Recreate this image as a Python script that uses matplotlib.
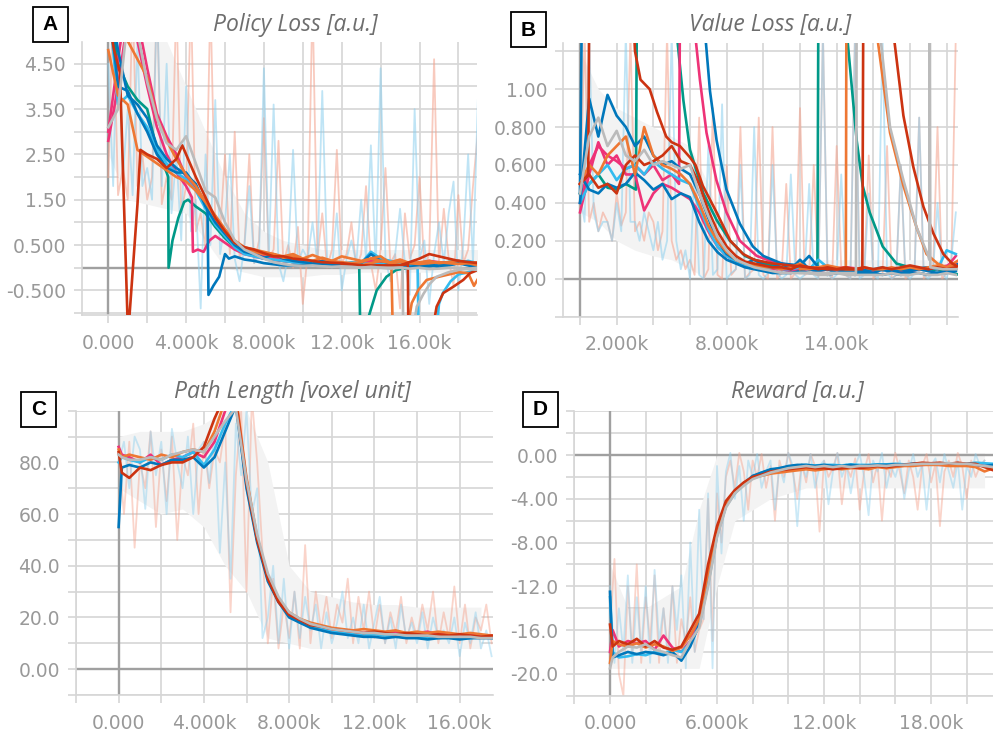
import numpy as np
import matplotlib
matplotlib.use("Agg")
import matplotlib.pyplot as plt
from matplotlib.patches import Rectangle

# ---------------- colours (TensorBoard run palette) ----------------
BLUE = "#0077bb"; CYAN = "#33bbee"; TEAL = "#009988"; ORANGE = "#ee7733"
RED = "#cc3311"; MAGENTA = "#ee3377"; GRAY = "#bbbbbb"
RAW_RED = "#f4a08a"; RAW_BLUE = "#8ccfee"

# =================== Panel A : Policy loss ===================
A_step = 500
A_gray = [3.1, 3.5, 5.5, 5.2, 4.1, 3.3, 2.75, 2.6, 2.9, 2.3, 1.7, 1.55, 1.0, 0.6, 0.4, 0.3, 0.2, 0.12, 0.08, 0.05,
          0.04, 0.05, 0.03, 0.02, 0.03, 0.02, 0.0, 0.02, 0.0, -0.02, 0.0, -0.02, 0.0, -0.03, -0.02, 0.0, 0.0, -0.03, -0.05]
A_magenta = [2.8, 4.0, 5.5, 5.5, 4.4, 3.4, 2.9, 2.5, 2.0, 1.75, 1.35, 1.0, 0.75, 0.5, 0.38, 0.3, 0.25, 0.22, 0.2, 0.15,
             0.18, 0.12, 0.1, 0.12, 0.1, 0.08, 0.1, 0.15, 0.12, 0.08, 0.1, 0.12, 0.1, 0.15, 0.12, 0.1, 0.15, 0.1, 0.12]
A_orange = [6, 5.5, 5.0, 4.6, 4.2, 3.3, 2.8, 2.4, 2.05, 1.8, 1.45, 1.1, 0.8, 0.55, 0.45, 0.35, 0.3, 0.3, 0.22, 0.25,
            0.2, 0.15, 0.22, 0.15, 0.12, 0.1, 0.12, 0.2, 0.25, 0.1, 0.12, 0.1, 0.08, 0.1, 0.12, 0.1, 0.08, 0.1, 0.05]
A_orange2 = [4.8, 3.8, 3.6, 2.6, 2.45, 2.3, 2.15, 2.0, 1.9, 1.7, 1.45, 1.15, 0.85, 0.6, 0.45, 0.4, 0.35, 0.3, 0.25, 0.3,
             0.2, 0.28, 0.2, 0.15, 0.25, 0.2, 0.15, 0.2, 0.15, 0.12, 0.18, 0.1, 0.12, 0.15, 0.1, 0.12, 0.15, 0.1, 0.12]
A_blue = [6, 4.8, 3.8, 3.6, 3.3, 2.7, 2.4, 2.2, 2.05, 1.85, 1.35, 1.0, 0.75, 0.5, 0.35, 0.3, 0.22, 0.3, 0.2, 0.15,
          0.12, 0.1, 0.15, 0.12, 0.1, 0.08, 0.1, 0.3, 0.15, 0.1, 0.05, 0.08, 0.05, 0.1, 0.0, 0.05, 0.1, 0.05, 0.0]
A_cyan = [6, 3.6, 3.8, 3.4, 3.1, 2.6, 2.3, 2.1, 1.95, 1.7, 1.3, 0.95, 0.7, 0.45, 0.3, 0.25, 0.2, 0.18, 0.15, 0.12,
          0.1, 0.15, 0.12, 0.1, 0.08, 0.12, 0.1, 0.35, 0.2, 0.15, 0.1, 0.12, 0.1, 0.08, 0.1, 0.05, 0.1, 0.15, 0.1]

A_red_x = [0, 300, 600, 800, 1000, 1050, 1300, 1500, 1650, 2000, 2500, 3000, 3500, 3800, 4000, 4500, 5000, 5500, 6000,
           6500, 7000, 7500, 8000, 8500, 9000, 9500, 10000, 11000, 12000, 13000, 14000, 15000, 16000, 16500, 17000,
           18000, 19000]
A_red = [5.5, 4.8, 4.3, 1.5, -1.3, -1.3, 0.2, 1.4, 2.6, 2.5, 2.4, 2.2, 2.4, 2.7, 2.5, 2.0, 1.55, 1.1, 0.8, 0.55,
         0.45, 0.4, 0.32, 0.25, 0.25, 0.2, 0.18, 0.12, 0.1, 0.05, 0.02, 0.05, 0.2, 0.3, 0.25, 0.15, 0.1]
A_blue2_x = [0, 500, 1000, 1500, 2000, 2500, 3000, 3500, 4000, 4500, 5000, 5100, 5150, 5400, 5700, 6000, 6200, 6500,
             7000, 7500, 8000, 9000, 10000, 11000, 12000, 13000, 14000, 15000, 16000, 17000, 18000, 19000]
A_blue2 = [6, 4.0, 3.9, 3.4, 3.0, 2.5, 2.2, 2.1, 2.1, 1.8, 1.4, 1.3, -0.6, -0.4, -0.2, 0.3, 0.2, 0.25, 0.18, 0.15,
           0.1, 0.05, 0.05, 0.08, 0.05, 0.0, 0.05, 0.0, 0.02, 0.05, 0.1, 0.05]
A_teal_x = [0, 500, 1000, 1500, 2000, 2500, 3000, 3080, 3100, 3300, 3600, 3900, 4100, 4500, 5000, 5500, 6000, 6500,
            7000, 8000, 9000, 10000, 11000, 12000, 12900, 12950, 13300, 13800, 14300, 14800, 15500, 16000, 17000,
            18000, 19000]
A_teal = [6, 4.5, 4.0, 3.7, 3.5, 2.6, 2.1, 2.0, 0.0, 0.6, 1.1, 1.45, 1.5, 1.35, 1.2, 0.9, 0.65, 0.45, 0.35, 0.2,
          0.15, 0.1, 0.1, 0.05, 0.05, -1.3, -1.2, -0.5, -0.2, -0.05, 0.0, 0.05, 0.1, 0.15, 0.1]
A_magenta2_x = [0, 500, 1000, 1500, 2000, 2500, 3000, 3500, 4000, 4300, 4350, 4600, 4900, 5200, 5500, 6000, 6500,
                7000, 8000, 9000, 10000, 11000, 12000, 13000, 14000, 15000, 16000, 17000, 18000, 19000]
A_magenta2 = [3.0, 4.6, 6, 5.0, 4.0, 3.1, 2.5, 2.1, 1.8, 1.55, 0.35, 0.4, 0.35, 0.6, 0.7, 0.55, 0.4, 0.3, 0.2, 0.15,
              0.1, 0.12, 0.1, 0.08, 0.1, 0.05, 0.08, 0.1, 0.12, 0.1]
A_orange_late_x = [12000, 13000, 14000, 14550, 14620, 15400, 15600, 15940, 16370, 17000, 17500, 18000, 18500, 18800, 19000]
A_orange_late = [0.1, 0.05, 0.15, 0.1, -1.3, -1.3, -0.78, -0.49, -0.27, -0.2, -0.15, -0.1, -0.12, -0.4, -0.25]
A_red_late_x = [12000, 13000, 14000, 15000, 15400, 15425, 16700, 16880, 17220, 17740, 18250, 18600, 19000]
A_red_late = [0.08, 0.05, 0.05, 0.05, 0.08, -1.3, -1.3, -0.86, -0.56, -0.42, -0.27, -0.12, -0.05]
A_gray_late_x = [12000, 13000, 14000, 15000, 15130, 15160, 15700, 15860, 16200, 16540, 16880, 17500, 18000, 19000]
A_gray_late = [0.0, 0.0, 0.0, 0.0, 0.0, -1.3, -1.3, -0.86, -0.58, -0.35, -0.2, -0.1, -0.05, 0.0]
A_cyan_late_x = [12000, 14000, 15900, 15950, 16900, 17000, 17200, 17600, 18000, 18500, 19000]
A_cyan_late = [0.1, 0.08, 0.05, -1.3, -1.3, -0.8, -0.56, -0.3, -0.15, -0.1, -0.05]

A_raw_step = 250
A_raw_red = [2.0, 6, 1.6, 2.2, 1.5, 6, 1.8, 2.5, 1.5, 2.0, 6, 1.4, 2.0,
             1.5, 6, 1.2, 1.8, 6, 0.8, 1.2, 0.4, 6, 1.0, 0.8, 2.5,
             0.3, 3.0, 0.2, 0.5, 2.5, 0.1, 0.6, 3.3, 0.2, 0.4, 2.8, 0.1, 0.5, 0.0, 0.9, -0.8,
             0.3, 6, 0.2, 1.2, 0.0, 0.4, 2.6, 0.1, 0.3, 1.0, 0.0, 0.3, 1.8, 0.1, -0.5, 0.4, 2.2, 0.1, 0.3, -0.9, 1.2,
             0.2, 0.5, 2.0, 0.0, 0.3, 4.6, 0.1, 1.3, 0.2, -0.4, 1.6, 0.1, 0.4, 1.8, 3.0]
A_raw_blue = [4.5, 1.8, 6, 2.0, 3.5, 1.6, 5, 1.8, 2.2, 1.5, 6, 1.8, 4.5,
              1.2, 2.5, 0.6, 4.0, 0.8, 1.5, -0.9, 2.5, 0.5, 3.7, 0.3, 1.0,
              2.5, 0.2, -0.3, 0.5, 1.8, 0.1, 0.3, 4.4, 0.2, 3.6, 0.1, -0.3, 0.3, 2.6, 0.1, 0.4,
              0.2, 1.0, 0.1, 3.9, 0.2, 0.0, 1.2, -0.5, 0.2, 0.6, 0.1, 1.5, 0.2, 2.7, 0.0, 4.4, 0.2, -0.3, 0.3, 1.3,
              0.1, -0.6, 3.5, 0.2, 0.6, -0.8, 0.3, 1.0, 0.1, 1.2, 1.9, -0.5, 0.5, 2.5, 0.1, 3.7]
A_band_step = 1000
A_band_low = [2.5, 1.5, 1.4, 1.3, 1.2, 0.6, 0.0, -0.1, -0.2, -0.2, -0.2, -0.15, -0.15, -0.1, -0.1, -0.1, -0.1, -0.1, -0.1, -0.1]
A_band_high = [5, 5, 5, 5, 4, 3, 2.0, 1.2, 0.8, 0.6, 0.5, 0.4, 0.4, 0.4, 0.4, 0.4, 0.4, 0.4, 0.4, 0.4]

# =================== Panel B : Value loss ===================
B_step = 500
B_blue = [0.4, 0.95, 0.75, 0.97, 0.86, 0.8, 0.7, 0.75, 0.65, 0.6, 0.62, 0.58, 0.55, 0.45, 0.32, 0.2, 0.13, 0.1, 0.08,
          0.1, 0.07, 0.06, 0.08, 0.05, 0.1, 0.05, 0.04, 0.05, 0.03, 0.04, 0.03, 0.04, 0.03, 0.05, 0.04, 0.03, 0.04,
          0.05, 0.04, 0.03, 0.04, 0.05]
B_blue2 = [0.55, 0.47, 0.45, 0.5, 0.48, 0.5, 0.56, 0.52, 0.47, 0.5, 0.42, 0.45, 0.43, 0.3, 0.2, 0.14, 0.1, 0.08, 0.06,
           0.05, 0.04, 0.03, 0.03, 0.03, 0.04, 0.03, 0.03, 0.02, 0.03, 0.03, 0.02, 0.03, 0.03, 0.02, 0.03, 0.02, 0.03,
           0.03, 0.02, 0.03, 0.03, 0.04]
B_gray = [0.45, 0.75, 0.85, 0.7, 0.78, 0.65, 0.62, 0.68, 0.6, 0.62, 0.6, 0.58, 0.6, 0.45, 0.33, 0.22, 0.15, 0.1, 0.08,
          0.06, 0.05, 0.04, 0.03, 0.03, 0.03, 0.03, 0.02, 0.02, 0.03, 0.02, 0.02, 0.02, 0.02, 0.02, 0.03, 0.02, 0.02,
          0.03, 0.02, 0.02, 0.03, 0.02]
B_orange = [0.5, 0.6, 0.55, 0.65, 0.7, 0.75, 0.55, 0.8, 0.65, 0.6, 0.58, 0.55, 0.5, 0.4, 0.28, 0.2, 0.14, 0.1, 0.08,
            0.07, 0.06, 0.06, 0.05, 0.06, 0.08, 0.05, 0.06, 0.07, 0.06, 0.05, 0.05, 0.06, 0.05, 0.05, 0.06, 0.05, 0.06,
            0.05, 0.06, 0.07, 0.06, 0.07]
B_magenta = [0.35, 0.55, 0.72, 0.6, 0.65, 0.55, 0.55, 0.36, 0.45, 0.5, 0.48, 0.45, 0.42, 0.35, 0.25, 0.17, 0.12, 0.09,
             0.07, 0.06, 0.06, 0.05, 0.05, 0.04, 0.05, 0.05, 0.04, 0.05, 0.04, 0.04, 0.05, 0.04, 0.04, 0.05, 0.04, 0.05,
             0.04, 0.05, 0.06, 0.05, 0.06, 0.12]
B_red = [0.5, 0.55, 0.48, 0.5, 0.45, 0.6, 0.65, 0.6, 0.62, 0.65, 0.7, 0.62, 0.6, 0.5, 0.36, 0.25, 0.17, 0.12, 0.09,
         0.08, 0.07, 0.06, 0.06, 0.05, 0.07, 0.06, 0.05, 0.06, 0.05, 0.06, 0.05, 0.06, 0.05, 0.06, 0.05, 0.06, 0.07,
         0.06, 0.05, 0.06, 0.05, 0.06]
B_cyan = [0.4, 0.5, 0.55, 0.6, 0.52, 0.58, 0.6, 0.55, 0.62, 0.58, 0.55, 0.52, 0.5, 0.38, 0.26, 0.17, 0.12, 0.09, 0.07,
          0.06, 0.05, 0.06, 0.05, 0.05, 0.06, 0.05, 0.1, 0.06, 0.05, 0.04, 0.05, 0.04, 0.05, 0.06, 0.04, 0.05, 0.06,
          0.05, 0.06, 0.05, 0.15, 0.13]
B_red_hi_x = [0, 450, 500, 2900, 3000, 3300, 3800, 4200, 4700, 5000, 5450, 6000, 6300, 6700, 7450, 8200, 8900, 9500,
              10500, 11500, 12500, 13500, 14500, 15400, 15450, 15500, 17090, 17640, 18180, 18730, 19270, 19820, 20300, 20700]
B_red_hi = [0.5, 0.55, 1.4, 1.4, 1.2, 1.05, 1.0, 0.88, 0.75, 0.72, 0.7, 0.64, 0.6, 0.49, 0.35, 0.2, 0.13, 0.1, 0.08,
            0.07, 0.06, 0.05, 0.05, 0.05, 1.4, 1.4, 1.3, 0.86, 0.59, 0.38, 0.24, 0.13, 0.08, 0.06]
B_teal_hi_x = [0, 500, 1000, 1500, 2000, 2500, 3050, 3100, 5270, 5640, 6000, 6730, 7450, 8180, 9000, 10000, 11000,
               12000, 12950, 13000, 14600, 15090, 15420, 15800, 16510, 17260, 18000, 19000, 20000, 20700]
B_teal_hi = [0.45, 0.5, 0.55, 0.48, 0.47, 0.5, 0.47, 1.4, 1.3, 0.94, 0.68, 0.45, 0.31, 0.2, 0.12, 0.08, 0.06, 0.05,
             0.05, 1.4, 1.25, 0.73, 0.49, 0.35, 0.17, 0.08, 0.06, 0.05, 0.04, 0.02]
B_magenta_hi_x = [0, 500, 1000, 1500, 2000, 2500, 3000, 3500, 4000, 4500, 5000, 5400, 5450, 6270, 6540, 6900, 7440,
                  7990, 8720, 9640, 10500, 11500, 12500, 13500, 14500, 15500, 16500, 17500, 18500, 19500, 20700]
B_magenta_hi = [0.4, 0.6, 0.7, 0.65, 0.62, 0.58, 0.6, 0.55, 0.6, 0.52, 0.55, 0.5, 1.4, 1.3, 1.05, 0.77, 0.52, 0.35,
                0.2, 0.12, 0.09, 0.07, 0.06, 0.05, 0.06, 0.05, 0.05, 0.04, 0.05, 0.06, 0.08]
B_blue_hi_x = [0, 100, 150, 6820, 7090, 7450, 7990, 8720, 9430, 10000, 11000, 12000, 12500, 13000, 14000, 15000,
               16000, 17000, 18000, 19000, 20000, 20700]
B_blue_hi = [0.45, 1.4, 1.4, 1.3, 0.99, 0.73, 0.47, 0.29, 0.17, 0.12, 0.08, 0.07, 0.12, 0.06, 0.05, 0.04, 0.05, 0.04,
             0.05, 0.06, 0.05, 0.08]
B_orange_late_x = [12000, 13000, 14000, 14500, 14530, 14600, 16180, 16910, 17640, 18360, 18900, 19500, 20000, 20700]
B_orange_late = [0.05, 0.06, 0.05, 0.06, 1.4, 1.4, 1.3, 0.77, 0.49, 0.27, 0.13, 0.08, 0.06, 0.1]
B_gray_late_x = [12000, 13000, 14000, 15050, 15090, 15150, 16360, 16910, 17640, 18360, 19000, 19050, 19080, 19110,
                 19800, 20700]
B_gray_late = [0.03, 0.03, 0.03, 0.03, 1.4, 1.4, 1.3, 0.8, 0.52, 0.27, 0.12, 0.1, 1.4, 0.06, 0.05, 0.05]

B_raw_step = 250
B_raw_red = [0.35, 1.3, 0.3, 0.4, 0.25, 0.35, 0.3, 0.2, 0.45, 0.28, 0.35, 1.3, 0.25, 0.3, 0.2, 0.35, 0.3, 0.15, 0.25,
             1.3, 0.2, 0.1, 0.15, 0.05, 0.1,
             0.02, 0.85, 0.0, 0.05, 0.9, 0.02, 0.0, 0.6, 0.02, 0.05, 0.8, 0.0, 0.03, 0.05, 0.85, 0.02, 0.0, 0.8, 0.0,
             0.03, 0.5, 0.0, 0.03, 0.9,
             0.02, 0.03, 0.6, 0.0, 1.3, 0.03, 0.0, 0.7, 0.05, 0.02, 0.0, 1.3, 0.02, 0.03, 0.65, 0.0, 0.03, 0.02, 0.7,
             0.0, 0.02, 0.6, 0.0, 0.02, 0.05, 0.85, 0.0, 0.03, 0.02, 0.8, 0.0, 0.03, 0.05, 1.3]
B_raw_blue = [0.45, 0.3, 1.3, 0.35, 0.25, 0.3, 0.3, 0.2, 0.4, 0.25, 1.3, 0.3, 0.3, 0.2, 0.35, 0.25, 0.15, 0.3, 0.1,
              0.2, 1.3, 0.2, 0.05, 0.15, 0.0,
              0.6, 0.02, 0.0, 0.7, 0.02, 0.05, 0.92, 0.0, 0.03, 0.05, 0.6, 0.0, 0.02, 0.8, 0.02, 0.0, 0.03, 0.6, 0.03,
              0.0, 0.02, 0.55, 0.02, 0.0,
              0.02, 0.5, 0.02, 0.0, 1.3, 0.03, 0.0, 0.02, 0.55, 0.02, 0.0, 1.3, 0.0, 0.02, 0.45, 0.02, 0.0, 1.3, 0.03,
              0.0, 0.02, 0.6, 0.02, 0.0, 0.03, 0.85, 0.02, 0.0, 0.03, 0.4, 0.03, 0.0, 0.1, 0.35]
B_band_step = 1000
B_band_low = [0.35, 0.3, 0.2, 0.15, 0.12, 0.1, 0.05, 0.0, 0.0, 0.0, 0.0, 0.0, 0.0, 0.0, 0.0, 0.0, 0.0, 0.0, 0.0, 0.0, 0.0]
B_band_high = [1.2, 1.0, 0.9, 0.85, 0.8, 0.75, 0.7, 0.5, 0.2, 0.12, 0.1, 0.1, 0.1, 0.1, 0.1, 0.1, 0.1, 0.1, 0.1, 0.1, 0.1]

# =================== Panel C : Path length ===================
C_steps = [0, 150] + list(range(500, 18000, 500))
C_red = [84, 76, 74, 78, 77, 79, 80, 80, 82, 86, 97, 106, 104, 72, 50, 35, 26, 21, 19, 17, 16.5, 15.5, 15, 14.5, 14,
         14.5, 14, 13.5, 14, 13.5, 13, 13.5, 13, 13.5, 13, 12.5, 13]
C_orange = [85, 82, 83, 82, 81, 83, 82, 84, 85, 84, 92, 104, 106, 74, 51, 36, 27, 22, 19.5, 18, 17, 16, 15.5, 15, 15.5,
            15, 14.5, 15, 14, 14.5, 14, 14.5, 14, 13.5, 14, 13.5, 13]
C_blue = [55, 78, 79, 78, 80, 79, 81, 81, 82, 78, 82, 92, 102, 70, 49, 34, 26, 20, 18, 16, 15, 14, 13.5, 13, 12.5, 12.5,
          12, 12.5, 12, 12, 11.5, 12, 12, 11.5, 12, 12, 12]
C_cyan = [80, 82, 81, 80, 82, 81, 83, 82, 84, 79, 85, 95, 103, 71, 50, 35, 27, 21, 18, 16.5, 15.5, 14.5, 14, 13.5, 13,
          13.5, 13, 12.5, 13, 12.5, 12.5, 12, 12.5, 12, 12, 12.5, 12]
C_magenta = [86, 83, 82, 80, 83, 79, 81, 82, 84, 82, 88, 100, 105, 73, 50, 35, 26, 21, 19, 17, 16, 15.5, 15, 14.5, 14,
             14.5, 14, 14.5, 13.5, 14, 14.5, 13.5, 13.5, 13, 13.5, 13, 12.5]
C_gray = [83, 82, 81, 81, 82, 81, 83, 84, 85, 84, 90, 96, 101, 73, 52, 37, 28, 22, 19.5, 17.5, 16.5, 15.5, 15, 14.5,
          14, 14, 13.5, 13.5, 13, 13, 13, 12.5, 12.5, 12.5, 12.5, 12, 12]
C_raw_step = 250
C_raw_red = [85, 60, 88, 47, 80, 70, 92, 55, 85, 65, 90, 50, 82, 75, 95, 60, 88, 70, 85, 80, 95, 22, 75, 100, 30, 105,
             80, 45, 10, 35, 8, 25, 12, 30, 8, 48, 10, 30, 15, 28, 12, 25, 18, 35, 10, 28, 15, 30, 12, 25, 10, 22, 14,
             28, 10, 20, 12, 25, 15, 30, 10, 22, 12, 32, 10, 25, 8, 20, 15, 25, 10]
C_raw_blue = [80, 88, 70, 90, 85, 62, 92, 75, 88, 60, 93, 80, 70, 90, 60, 85, 88, 72, 92, 45, 80, 35, 95, 75, 100, 60,
              70, 12, 20, 40, 10, 35, 8, 30, 12, 28, 15, 25, 8, 22, 10, 18, 30, 12, 20, 10, 25, 8, 18, 28, 10, 20, 8,
              25, 12, 18, 10, 22, 8, 20, 12, 15, 10, 20, 5, 18, 10, 22, 8, 15, 5]
C_band_step = 1000
C_band_low = [70, 65, 60, 62, 55, 40, 30, 12, 10, 8, 8, 8, 8, 8, 8, 8, 8, 8]
C_band_high = [90, 92, 92, 92, 95, 100, 100, 80, 40, 30, 28, 26, 25, 25, 24, 24, 24, 24]

# =================== Panel D : Reward ===================
D_steps = [0, 150] + list(range(500, 22000, 500))
D_gray = [-19.5, -18.5, -18.0, -17.5, -17.6, -17.3, -17.8, -18.0, -18.3, -18.5, -17.0, -15.8, -12.0, -7.5, -4.8, -3.5,
          -2.8, -2.2, -1.9, -1.6, -1.4, -1.2, -1.1, -1.0, -1.1, -1.0, -1.1, -1.0, -1.1, -1.0, -1.0, -0.95, -1.0, -0.9,
          -0.9, -0.85, -0.8, -0.8, -0.8, -0.75, -0.8, -0.8, -0.9, -1.0, -1.1]
D_red = [-15.5, -17.5, -17.0, -17.3, -16.8, -17.5, -17.0, -17.6, -17.8, -17.5, -16.0, -14.5, -10.0, -6.5, -4.2, -3.2,
         -2.5, -2.0, -1.8, -1.5, -1.4, -1.3, -1.2, -1.1, -1.2, -1.2, -1.3, -1.2, -1.1, -1.2, -1.1, -1.0, -1.1, -1.0,
         -0.9, -0.8, -0.7, -0.75, -0.7, -0.8, -0.7, -0.8, -0.8, -1.1, -1.4]
D_blue = [-12.5, -18.5, -18.3, -18.0, -18.2, -18.0, -18.1, -18.3, -18.0, -18.8, -17.5, -15.5, -11.5, -7.2, -4.6, -3.4,
          -2.6, -1.9, -1.6, -1.3, -1.2, -1.0, -0.9, -0.9, -1.0, -0.9, -1.0, -1.0, -0.9, -1.0, -0.95, -0.9, -0.9, -0.85,
          -0.9, -0.8, -0.85, -0.8, -0.8, -0.85, -0.8, -0.8, -0.9, -1.0, -0.9]
D_orange = [-19.0, -17.0, -17.3, -17.5, -17.2, -17.6, -17.3, -17.5, -17.9, -17.6, -16.5, -15.0, -10.8, -6.8, -4.4,
            -3.3, -2.6, -2.1, -1.9, -1.7, -1.6, -1.5, -1.4, -1.3, -1.4, -1.3, -1.2, -1.3, -1.2, -1.2, -1.3, -1.1, -1.2,
            -1.1, -1.0, -1.0, -0.9, -0.9, -0.9, -1.0, -1.0, -1.0, -1.1, -1.5, -1.2]
D_cyan = [-13.0, -18.0, -18.5, -18.4, -18.2, -18.3, -18.0, -18.2, -17.8, -18.0, -17.2, -15.6, -11.8, -7.4, -4.7, -3.5,
          -2.7, -2.0, -1.6, -1.4, -1.2, -1.1, -0.95, -0.9, -0.95, -0.9, -0.9, -0.95, -0.85, -0.9, -0.9, -0.85, -0.85,
          -0.8, -0.85, -0.8, -0.75, -0.8, -0.75, -0.75, -0.8, -0.8, -0.7, -0.75, -0.8]
D_magenta = [-18.0, -16.0, -17.5, -17.0, -17.2, -17.0, -17.8, -16.5, -17.6, -18.0, -17.0, -15.0, -11.0, -7.0, -4.5,
             -3.4, -2.7, -2.1, -1.8, -1.6, -1.5, -1.3, -1.2, -1.2, -1.1, -1.2, -1.1, -1.2, -1.1, -1.1, -1.0, -1.0, -1.1,
             -1.0, -0.95, -0.9, -0.9, -0.85, -0.9, -0.9, -0.85, -0.9, -0.95, -1.0, -1.0]
D_raw_step = 250
D_raw_red = [-16, -9.5, -20, -22, -12, -18, -10, -19, -13, -17, -11, -19, -14, -18, -12, -19, -15, -17, -13, -18, -16,
             -15, -4, -17, -3.5,
             -8, -2, -0.5, -3, 0.2, -1.5, -5, -0.5, -2, 0.1, -3, -1, -6, -0.5, -2, 0.2, -1.5, -4, -0.8, -2.5, 0.1, -1,
             -7, -0.5, -2, -1.2, 0.2, -4.5, -1, -2, -0.3, -5, -1.5, 0.1, -2.5, -0.8, -6, -1, -2, 0.2, -1.5, -3.5,
             -0.5, -2, -5, -1, 0.1, -2.5, -0.8, -6.5, -1.5, -0.5, -2, 0.2, -1, -4, -0.5, -2, -1, -0.5]
D_raw_blue = [-12, -19, -14, -18, -11, -19, -13, -18, -12, -19, -10.5, -17, -14, -19, -12, -16, -11, -19.5, -8, -18,
              -5, -15, -3.5, -19.5, -1,
              -9, -1.5, 0.2, -4, -1, -6, -0.5, -2, 0.1, -3, -1.5, -0.5, -5, -1, -2.5, 0.2, -1, -6.5, -0.8, -2, 0.1, -3,
              -1, -0.5, -4.5, -1.5, 0.2, -2, -0.8, -3.5, -1, 0.1, -2, -5.5, -0.5, -1.5, 0.2, -3, -1, -2, -0.5, -4,
              -1.5, 0.1, -2, -0.8, -5, -1, -0.3, -2.5, 0.1, -1.5, -3, -0.5, -5, -1, -2, 0.1, -1, -0.5]
D_band_step = 1000
D_band_low = [-19.5, -19.5, -19.5, -19.5, -19.5, -19.5, -12, -6, -5, -4, -3.5, -3, -3, -3, -3, -3, -3, -3, -3, -3, -3, -3]
D_band_high = [-10, -14, -14, -13, -12, -5, 0, 0.2, 0.2, 0.2, 0.2, 0.2, 0.2, 0.2, 0.2, 0.2, 0.2, 0.2, 0.2, 0.2, 0.2, 0.2]

# ---------------- tick labels ----------------
A_xticks = [0, 4000, 8000, 12000, 16000]; A_xlabels = ["0.000", "4.000k", "8.000k", "12.00k", "16.00k"]
A_yticks = [-0.5, 0.5, 1.5, 2.5, 3.5, 4.5]; A_ylabels = ["-0.500", "0.500", "1.50", "2.50", "3.50", "4.50"]
B_xticks = [2000, 8000, 14000]; B_xlabels = ["2.000k", "8.000k", "14.00k"]
B_yticks = [0.0, 0.2, 0.4, 0.6, 0.8, 1.0]; B_ylabels = ["0.00", "0.200", "0.400", "0.600", "0.800", "1.00"]
C_xticks = [0, 4000, 8000, 12000, 16000]; C_xlabels = ["0.000", "4.000k", "8.000k", "12.00k", "16.00k"]
C_yticks = [0, 20, 40, 60, 80]; C_ylabels = ["0.00", "20.0", "40.0", "60.0", "80.0"]
D_xticks = [0, 6000, 12000, 18000]; D_xlabels = ["0.000", "6.000k", "12.00k", "18.00k"]
D_yticks = [0, -4, -8, -12, -16, -20]; D_ylabels = ["0.00", "-4.00", "-8.00", "-12.0", "-16.0", "-20.0"]

titles = ["Policy Loss [a.u.]", "Value Loss [a.u.]", "Path Length [voxel unit]", "Reward [a.u.]"]
letters = ["A", "B", "C", "D"]

# ================= figure =================
W, H = 993, 735
fig = plt.figure(figsize=(W / 100, H / 100), dpi=100)
fig.patch.set_facecolor("white")


def px_axes(l, t, r, b):
    return fig.add_axes([l / W, 1 - b / H, (r - l) / W, (b - t) / H])


GRID = "#d6d6d6"
LAB = "#999999"


def style(ax, xlim, ylim, xt, xl, xminor, yt, yl, yminor):
    ax.set_xlim(*xlim); ax.set_ylim(*ylim)
    ax.set_xticks(xt); ax.set_xticklabels(xl)
    ax.set_yticks(yt); ax.set_yticklabels(yl)
    ax.set_xticks(xminor, minor=True); ax.set_yticks(yminor, minor=True)
    ax.grid(True, which="both", color=GRID, lw=1.2)
    ax.set_axisbelow(True)
    for s in ["top", "right"]:
        ax.spines[s].set_visible(False)
    for s in ["left", "bottom"]:
        ax.spines[s].set_color(GRID); ax.spines[s].set_linewidth(1.2)
    ax.tick_params(which="both", direction="out", length=5.5, width=1.2, color=GRID,
                   labelsize=13.5, labelcolor=LAB)
    ax.tick_params(axis="y", pad=6)
    ax.tick_params(axis="x", pad=8)
    ax.axhline(0, color="#a0a0a0", lw=1.7, zorder=1.2)
    ax.axvline(0, color="#a0a0a0", lw=1.7, zorder=1.2)
    ax.set_facecolor("white")


def band(ax, step, lo, hi):
    x = np.arange(len(lo)) * step
    ax.fill_between(x, lo, hi, color="#f3f3f3", lw=0, zorder=1)


def raw(ax, step, y, color, alpha=0.55):
    x = np.arange(len(y)) * step
    ax.plot(x, y, color=color, lw=1.3, alpha=alpha, zorder=1.5)


def smooth(ax, x, y, color):
    ax.plot(x, y, color=color, lw=1.9, zorder=3, solid_joinstyle="round")


def smooth_step(ax, step, y, color):
    smooth(ax, np.arange(len(y)) * step, y, color)


# ---- A ----
axA = px_axes(82, 42, 477, 315)
band(axA, A_band_step, A_band_low, A_band_high)
raw(axA, A_raw_step, A_raw_red, RAW_RED)
raw(axA, A_raw_step, A_raw_blue, RAW_BLUE)
smooth(axA, A_teal_x, A_teal, TEAL)
smooth(axA, A_magenta2_x, A_magenta2, MAGENTA)
smooth_step(axA, A_step, A_magenta, MAGENTA)
smooth_step(axA, A_step, A_cyan, CYAN)
smooth(axA, A_cyan_late_x, A_cyan_late, CYAN)
smooth_step(axA, A_step, A_blue, BLUE)
smooth(axA, A_blue2_x, A_blue2, BLUE)
smooth_step(axA, A_step, A_orange, ORANGE)
smooth_step(axA, A_step, A_orange2, ORANGE)
smooth(axA, A_orange_late_x, A_orange_late, ORANGE)
smooth(axA, A_red_x, A_red, RED)
smooth(axA, A_red_late_x, A_red_late, RED)
smooth_step(axA, A_step, A_gray, GRAY)
smooth(axA, A_gray_late_x, A_gray_late, GRAY)
style(axA, (-1352, 18956), (-1.044, 4.98), A_xticks, A_xlabels, [2000, 6000, 10000, 14000, 18000],
      A_yticks, A_ylabels, [-1.0, 0.0, 1.0, 2.0, 3.0, 4.0])

# ---- B ----
axB = px_axes(563.3, 43.3, 958.3, 316.7)
band(axB, B_band_step, B_band_low, B_band_high)
raw(axB, B_raw_step, B_raw_red, RAW_RED)
raw(axB, B_raw_step, B_raw_blue, RAW_BLUE)
smooth(axB, B_teal_hi_x, B_teal_hi, TEAL)
smooth_step(axB, B_step, B_magenta, MAGENTA)
smooth(axB, B_magenta_hi_x, B_magenta_hi, MAGENTA)
smooth_step(axB, B_step, B_cyan, CYAN)
smooth_step(axB, B_step, B_blue2, BLUE)
smooth_step(axB, B_step, B_blue, BLUE)
smooth(axB, B_blue_hi_x, B_blue_hi, BLUE)
smooth_step(axB, B_step, B_orange, ORANGE)
smooth(axB, B_orange_late_x, B_orange_late, ORANGE)
smooth_step(axB, B_step, B_red, RED)
smooth(axB, B_red_hi_x, B_red_hi, RED)
smooth_step(axB, B_step, B_gray, GRAY)
smooth(axB, B_gray_late_x, B_gray_late, GRAY)
style(axB, (-911, 20634), (-0.2005, 1.242), B_xticks, B_xlabels,
      [0, 4000, 6000, 10000, 12000, 16000, 18000, 20000],
      B_yticks, B_ylabels, [-0.2, 1.2])

# ---- C ----
axC = px_axes(76, 410.7, 493.3, 695)
band(axC, C_band_step, C_band_low, C_band_high)
raw(axC, C_raw_step, C_raw_red, RAW_RED, 0.45)
raw(axC, C_raw_step, C_raw_blue, RAW_BLUE, 0.45)
for y, c in [(C_magenta, MAGENTA), (C_cyan, CYAN), (C_blue, BLUE), (C_orange, ORANGE), (C_red, RED), (C_gray, GRAY)]:
    smooth(axC, C_steps, y, c)
style(axC, (-2000, 17578), (-10, 100), C_xticks, C_xlabels, [-2000, 2000, 6000, 10000, 14000],
      C_yticks, C_ylabels, [-10, 10, 30, 50, 70, 90, 100])

# ---- D ----
axD = px_axes(574.3, 411.3, 993, 695.7)
band(axD, D_band_step, D_band_low, D_band_high)
raw(axD, D_raw_step, D_raw_red, RAW_RED, 0.45)
raw(axD, D_raw_step, D_raw_blue, RAW_BLUE, 0.45)
for y, c in [(D_magenta, MAGENTA), (D_cyan, CYAN), (D_blue, BLUE), (D_orange, ORANGE), (D_red, RED), (D_gray, GRAY)]:
    smooth(axD, D_steps, y, c)
style(axD, (-2002, 21475), (-22, 4), D_xticks, D_xlabels,
      [-2000, 2000, 4000, 8000, 10000, 14000, 16000, 20000],
      D_yticks, D_ylabels, [-22, -18, -14, -10, -6, -2, 2, 4])

# ---- titles and letter boxes ----
title_pos = [(295, 25), (770, 25), (292, 392), (797, 392)]
box_pos = [(33, 7), (511, 12), (21, 392), (523, 392)]
for t, (tx, ty) in zip(titles, title_pos):
    fig.text(tx / W, 1 - ty / H, t, ha="center", va="center", fontsize=16.5, style="italic",
             family="Open Sans", color="#6e6e6e")
for L, (bx, by) in zip(letters, box_pos):
    fig.add_artist(Rectangle((bx / W, 1 - (by + 35) / H), 35 / W, 35 / H, transform=fig.transFigure,
                             facecolor="white", edgecolor="black", lw=1.3, zorder=10))
    fig.text((bx + 17.5) / W, 1 - (by + 18) / H, L, ha="center", va="center", fontsize=15,
             fontweight="bold", family="Liberation Sans", color="black", zorder=11)

fig.savefig("out.png", dpi=100, facecolor="white")
